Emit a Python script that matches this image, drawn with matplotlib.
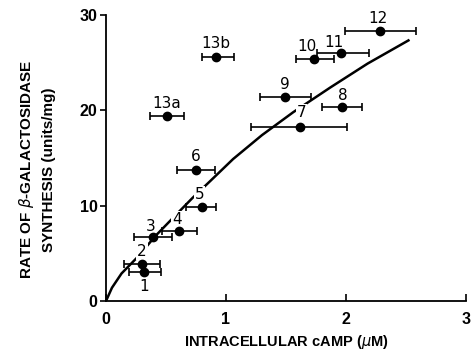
import matplotlib
matplotlib.use("Agg")
import matplotlib.pyplot as plt

# data points: cAMP (uM), rate (units/mg), x error range
labels = ["1", "2", "3", "4", "5", "6", "7", "8", "9", "10", "11", "12", "13a", "13b"]
camp = [0.32, 0.30, 0.39, 0.61, 0.80, 0.75, 1.62, 1.97, 1.49, 1.73, 1.96, 2.28, 0.51, 0.92]
rate = [3.0, 3.9, 6.7, 7.4, 9.9, 13.8, 18.3, 20.4, 21.4, 25.4, 26.0, 28.3, 19.4, 25.6]
x_lo = [0.19, 0.15, 0.23, 0.47, 0.67, 0.59, 1.21, 1.80, 1.28, 1.58, 1.76, 1.99, 0.37, 0.80]
x_hi = [0.46, 0.45, 0.55, 0.76, 0.92, 0.91, 2.01, 2.13, 1.71, 1.90, 2.19, 2.58, 0.65, 1.07]
# label offsets in points
lab_dx = [0, 0, -1.5, -1.5, -1.5, 0, 1, 0, 0, -5, -5, -1, 0, 0]
lab_dy = [-10, 9, 7.5, 8, 9, 9.5, 10, 8, 9, 9, 7.5, 9.5, 9, 9.5]

# fitted curve
curve_x = [0, 0.05, 0.13, 0.27, 0.41, 0.58, 0.72, 0.87, 1.06, 1.3, 1.56, 1.87, 2.18, 2.53]
curve_y = [0, 1.4, 2.9, 4.7, 6.8, 9.0, 10.8, 12.6, 14.9, 17.4, 19.8, 22.4, 24.9, 27.4]

fig = plt.figure(figsize=(4.73, 3.53), dpi=100)
ax = fig.add_axes([0.224, 0.147, 0.761, 0.8105])

ax.plot(curve_x, curve_y, color="black", lw=1.8, zorder=1, solid_capstyle="butt")

xerr = [[c - l for c, l in zip(camp, x_lo)], [h - c for c, h in zip(camp, x_hi)]]
ax.errorbar(camp, rate, xerr=xerr, fmt="o", color="black", ms=6,
            elinewidth=1.2, capsize=3, capthick=1.2, zorder=3)

for i in range(len(labels)):
    ax.annotate(labels[i], (camp[i], rate[i]), xytext=(lab_dx[i], lab_dy[i]),
                textcoords="offset points", ha="center", va="center",
                fontsize=11, family="DejaVu Sans", zorder=2,
                bbox=dict(boxstyle="square,pad=0.05", fc="white", ec="none"))

ax.set_xlim(0, 3)
ax.set_ylim(0, 30)
ax.set_xticks([0, 1, 2, 3])
ax.set_yticks([0, 10, 20, 30])
ax.spines["top"].set_visible(False)
ax.spines["right"].set_visible(False)
for s in ["left", "bottom"]:
    ax.spines[s].set_linewidth(1.3)
ax.tick_params(axis="x", direction="in", length=5, width=1.2, pad=8)
ax.tick_params(axis="y", direction="out", length=4, width=1.2, pad=2)
for t in ax.get_xticklabels() + ax.get_yticklabels():
    t.set_fontsize(11.5)
    t.set_fontweight("bold")
    t.set_family("Liberation Sans")

ax.set_xlabel(r"INTRACELLULAR cAMP ($\mu$M)", fontsize=10.5, fontweight="bold",
              family="Liberation Sans")
ax.xaxis.set_label_coords(0.5, -0.11)
ax.set_ylabel("RATE OF $\\beta$-GALACTOSIDASE\nSYNTHESIS (units/mg)", fontsize=11,
              fontweight="bold", family="Liberation Sans", linespacing=1.5)
ax.yaxis.set_label_coords(-0.14, 0.46)

fig.savefig("out.png", dpi=100)
